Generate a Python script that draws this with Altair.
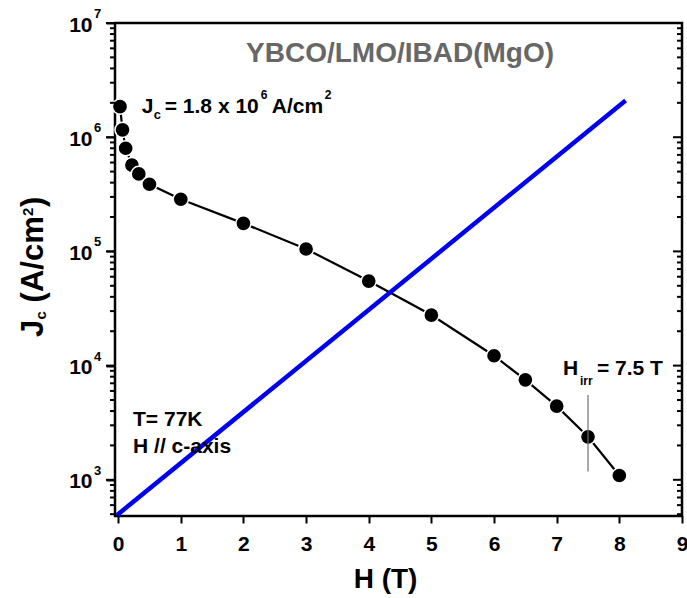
import altair as alt
import pandas as pd

# ---- data ----
H_T = [0.03, 0.07, 0.12, 0.22, 0.33, 0.5, 1, 2, 3, 4, 5, 6, 6.5, 7, 7.5, 8]
JC = [1.85e6, 1.16e6, 8.0e5, 5.7e5, 4.77e5, 3.87e5, 2.86e5, 1.76e5, 1.05e5,
      5.5e4, 2.77e4, 1.22e4, 7.5e3, 4.42e3, 2.38e3, 1.09e3]
BLUE_H = [-0.02, 8.1]
BLUE_JC = [490, 2.1e6]
HIRR_H = [7.5]
HIRR_LOW = [1.18e3]
HIRR_HIGH = [5.53e3]
X_TICKS = [0, 1, 2, 3, 4, 5, 6, 7, 8, 9]
Y_MAJOR = [1000, 10000, 100000, 1000000, 10000000]
Y_EXP = ["3", "4", "5", "6", "7"]
Y_MINOR = [m * 10 ** k for k in range(2, 7) for m in range(2, 10) if m * 10 ** k >= 482]

FONT = "Liberation Sans"
W, HGT = 567, 493
X_MIN, X_MAX = -0.05, 9
xs = alt.Scale(domain=[X_MIN, X_MAX], nice=False, zero=False)
ys = alt.Scale(type="log", domain=[482, 1e7], nice=False)

data_df = pd.DataFrame({"H": H_T, "Jc": JC})
blue_df = pd.DataFrame({"H": BLUE_H, "Jc": BLUE_JC})
irr_df = pd.DataFrame({"H": HIRR_H, "lo": HIRR_LOW, "hi": HIRR_HIGH})
exp_df = pd.DataFrame({"v": Y_MAJOR, "e": Y_EXP})
major_df = pd.DataFrame({"v": [float(v) for v in Y_MAJOR]})
minor_df = pd.DataFrame({"v": [float(v) for v in Y_MINOR]})

x_axis = alt.Axis(values=X_TICKS, format="d", domain=False, grid=False, tickSize=7,
                  tickWidth=2, tickColor="black", labelFont=FONT, labelFontSize=21,
                  labelFontWeight="bold", labelColor="black", labelPadding=10,
                  labelFlush=False, title="H (T)", titleFont=FONT, titleFontSize=28,
                  titleFontWeight="bold", titleColor="black", titleX=270, titleY=71,
                  titleBaseline="alphabetic", titleAlign="center")

y_axis = alt.Axis(values=Y_MAJOR, orient="left", domain=False, grid=False, tickSize=9,
                  tickColor="black", tickWidth=2, title=None, labelExpr="'10'",
                  labelFont=FONT, labelFontSize=21, labelFontWeight="bold",
                  labelColor="black", labelPadding=14, labelOffset=2,
                  labelOverlap=False, labelBound=False)

line = alt.Chart(data_df).mark_line(color="black", strokeWidth=2.2).encode(
    x=alt.X("H:Q", scale=xs, axis=x_axis),
    y=alt.Y("Jc:Q", scale=ys, axis=y_axis),
)
pts = alt.Chart(data_df).mark_circle(size=230, color="black", opacity=1,
                                     stroke="white", strokeWidth=1.5).encode(
    x=alt.X("H:Q", scale=xs),
    y=alt.Y("Jc:Q", scale=ys, axis=None),
)
blue = alt.Chart(blue_df).mark_line(color="#0000f0", strokeWidth=4.5).encode(
    x=alt.X("H:Q", scale=xs),
    y=alt.Y("Jc:Q", scale=ys, axis=None),
)
irr = alt.Chart(irr_df).mark_rule(color="#707070", strokeWidth=1.2).encode(
    x=alt.X("H:Q", scale=xs),
    y=alt.Y("lo:Q", scale=ys, axis=None),
    y2="hi:Q",
)
exps = alt.Chart(exp_df).mark_text(align="left", baseline="alphabetic", dx=-21, dy=-5,
                                    font=FONT, fontSize=13, fontWeight="bold",
                                    color="black").encode(
    x=alt.XDatum(X_MIN, scale=xs),
    y=alt.Y("v:Q", scale=ys, axis=None),
    text="e:N",
)

# tick glyphs: thin filled bars anchored on the frame edge
LEFT_MAJOR = "M-2,-0.222L0,-0.222L0,0.222L-2,0.222Z"    # 9 px long, 2 px thick
LEFT_MINOR = "M-2,-0.4L0,-0.4L0,0.4L-2,0.4Z"            # 5 px long, 2 px thick
RIGHT_MAJOR = "M0,-0.222L2,-0.222L2,0.222L0,0.222Z"
RIGHT_MINOR = "M0,-0.4L2,-0.4L2,0.4L0,0.4Z"


def yticks(df, edge, shape, size, inward=False):
    return alt.Chart(df).mark_point(shape=shape, size=size, filled=True, color="black",
                                    opacity=1, strokeWidth=0).encode(
        y=alt.Y("v:Q", scale=ys, axis=None),
        x=alt.XDatum(edge, scale=xs),
    )


ticks = [
    yticks(major_df, X_MIN, LEFT_MAJOR, 81),
    yticks(minor_df, X_MIN, LEFT_MINOR, 25),
    yticks(major_df, X_MAX, LEFT_MAJOR, 81),
    yticks(minor_df, X_MAX, LEFT_MINOR, 25),
]


def note(text, x, y, size, dx=0, dy=0, angle=0, color="black", align="left"):
    kw = dict(align=align, baseline="alphabetic", dx=dx, dy=dy, font=FONT,
              fontSize=size, fontWeight="bold", color=color)
    if angle:
        kw["angle"] = angle
    return alt.Chart(pd.DataFrame({"t": [text]})).mark_text(**kw).encode(
        x=alt.XDatum(x, scale=xs),
        y=alt.YDatum(y, scale=ys, axis=None),
        text="t:N",
    )


notes = [
    note("YBCO/LMO/IBAD(MgO)", 4.5, 4.58e6, 28, color="#676767", align="center"),
    # Jc = 1.8 x 10^6 A/cm^2
    note("J", 0.377, 1.63e6, 21),
    note("c", 0.377, 1.63e6, 13, dx=12, dy=6),
    note("= 1.8 x 10", 0.377, 1.63e6, 21, dx=23),
    note("6", 0.377, 1.63e6, 12, dx=119, dy=-14),
    note("A/cm", 0.377, 1.63e6, 21, dx=130),
    note("2", 0.377, 1.63e6, 12, dx=183, dy=-14),
    # T = 77K, H // c-axis
    note("T= 77K", 0.238, 2.96e3, 21),
    note("H // c-axis", 0.238, 1.72e3, 21),
    # H_irr = 7.5 T
    note("H", 7.10, 8.28e3, 21),
    note("irr", 7.10, 8.28e3, 12, dx=17, dy=10),
    note("= 7.5 T", 7.10, 8.28e3, 21, dx=34),
    # y axis title  Jc (A/cm^2)
    note("J", -1.199, 1.78e4, 31, angle=270),
    note("c", -1.199, 1.78e4, 15, dx=17.5, dy=3, angle=270),
    note("(A/cm", -1.199, 1.78e4, 31, dx=34.6, angle=270),
    note("2", -1.199, 1.78e4, 15, dx=121, dy=-10, angle=270),
    note(")", -1.199, 1.78e4, 31, dx=130, angle=270),
]

chart = alt.layer(line, blue, pts, irr, exps, *ticks, *notes).resolve_axis(
    y="independent"
).resolve_scale(y="shared", x="shared").properties(
    width=W, height=HGT,
    autosize=alt.AutoSizeParams(type="none"),
    padding={"left": 115, "top": 23, "right": 5, "bottom": 82},
    background="white",
).configure_view(stroke="black", strokeWidth=2.5)

chart.save("out.html", embed_options={"renderer": "svg", "actions": False})
